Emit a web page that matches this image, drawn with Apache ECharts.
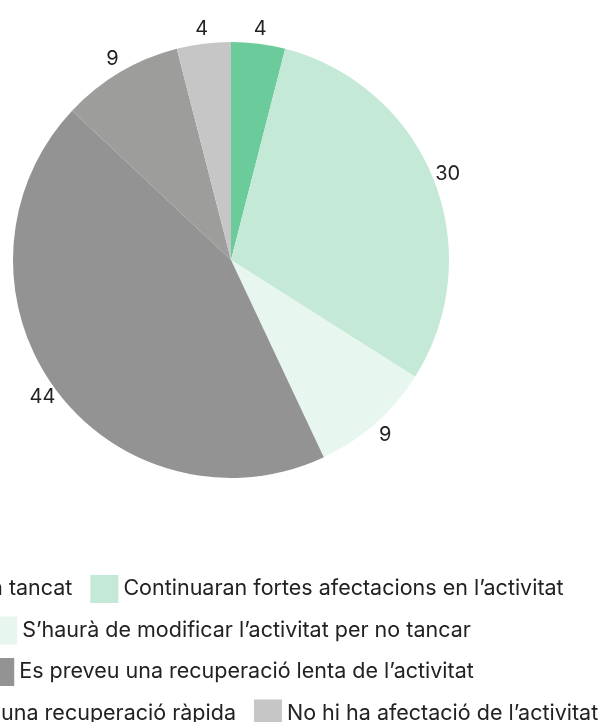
<!DOCTYPE html>
<html><head><meta charset="utf-8">
<script src="https://cdn.jsdelivr.net/npm/echarts@6/dist/echarts.min.js"></script>
<style>html,body{margin:0;padding:0;background:#fff}#c{width:603px;height:722px}</style>
</head><body><div id="c"></div>
<script>
const categories = [
  "Ja està tancat",
  "Continuaran fortes afectacions en l’activitat",
  "S’haurà de modificar l’activitat per no tancar",
  "Es preveu una recuperació lenta de l’activitat",
  "Es preveu una recuperació ràpida",
  "No hi ha afectació de l’activitat"
];
const values = [4, 30, 9, 44, 9, 4];
const colors = ["#6ccb9b", "#c4e9d6", "#e7f6ee", "#939393", "#9d9d9c", "#c6c6c6"];
const legendRows = [[0, 1], [2], [3], [4, 5]];

const FONT = "Inter";
const FS = 21.5;
const LFS = 20;
const TEXT = "#222222";
const CX = 231, CY = 260, R = 218;
const ICON = 28, GAP = 18, LEG_CENTER = 230, LEG_TOP = 575, LEG_STEP = 41.5;

const ctx = document.createElement("canvas").getContext("2d");
ctx.font = FS + "px " + FONT;
function rowWidth(idx) {
  let w = 0;
  idx.forEach((i, k) => { w += ICON + 5 + ctx.measureText(categories[i]).width + (k ? GAP : 0); });
  return w;
}

const data = categories.map((n, i) => ({ name: n, value: values[i], itemStyle: { color: colors[i] } }));

const legends = legendRows.map((idx, r) => ({
  data: idx.map(i => categories[i]),
  orient: "horizontal",
  left: LEG_CENTER - rowWidth(idx) / 2,
  top: LEG_TOP + r * LEG_STEP,
  width: 1200,
  padding: 0,
  itemGap: GAP,
  itemWidth: ICON,
  itemHeight: ICON,
  icon: "rect",
  selectedMode: false,
  textStyle: { fontFamily: FONT, fontSize: FS, color: TEXT }
}));

const chart = echarts.init(document.getElementById("c"), null, { renderer: "canvas" });
chart.setOption({
  animation: false,
  backgroundColor: "#ffffff",
  legend: legends,
  series: [
    {
      type: "pie",
      center: [CX, CY],
      radius: [0, R],
      startAngle: 90,
      clockwise: true,
      data: data,
      label: { show: false },
      labelLine: { show: false },
      itemStyle: { borderWidth: 0 },
      emphasis: { disabled: true }
    },
    {
      type: "pie",
      center: [CX, CY],
      radius: [R, R + 24],
      startAngle: 90,
      clockwise: true,
      silent: true,
      legendHoverLink: false,
      data: categories.map((n, i) => ({ name: n, value: values[i] })),
      itemStyle: { color: "rgba(0,0,0,0)", borderWidth: 0 },
      label: {
        show: true, position: "inside", formatter: "{c}",
        fontFamily: FONT, fontSize: LFS, color: TEXT
      },
      labelLine: { show: false },
      emphasis: { disabled: true }
    }
  ]
});
</script>
</body></html>
